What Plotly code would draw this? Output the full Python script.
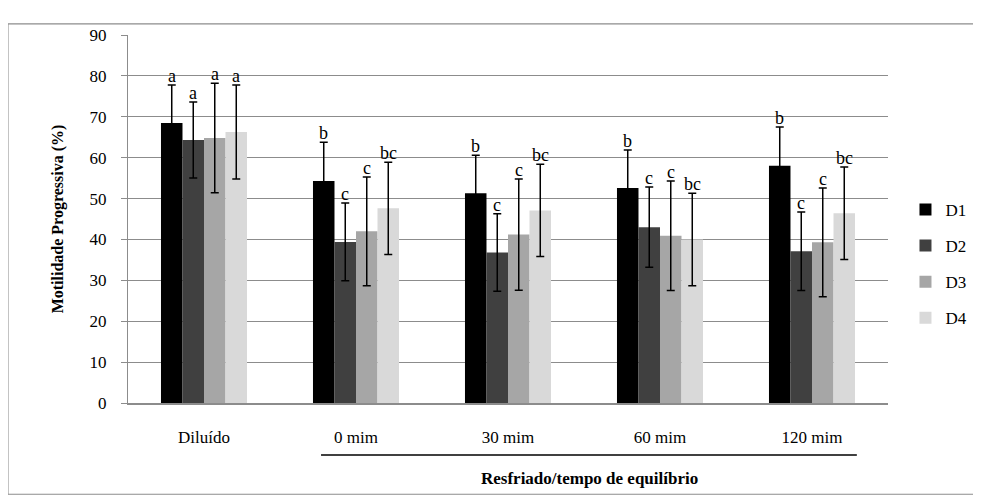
import plotly.graph_objects as go

categories = ["Diluído", "0 mim", "30 mim", "60 mim", "120 mim"]
series_names = ["D1", "D2", "D3", "D4"]

d1 = [68.5, 54.3, 51.3, 52.6, 58.0]
d2 = [64.3, 39.4, 36.8, 43.0, 37.1]
d3 = [64.8, 42.0, 41.2, 40.9, 39.3]
d4 = [66.3, 47.6, 47.1, 40.0, 46.4]

d1_err = [9.3, 9.5, 9.3, 9.3, 9.5]
d2_err = [9.3, 9.5, 9.5, 9.8, 9.6]
d3_err = [13.4, 13.3, 13.6, 13.4, 13.3]
d4_err = [11.5, 11.3, 11.3, 11.3, 11.3]

d1_letters = ["a", "b", "b", "b", "b"]
d2_letters = ["a", "c", "c", "c", "c"]
d3_letters = ["a", "c", "c", "c", "c"]
d4_letters = ["a", "bc", "bc", "bc", "bc"]

y_ticks = [0, 10, 20, 30, 40, 50, 60, 70, 80, 90]

values = [d1, d2, d3, d4]
errors = [d1_err, d2_err, d3_err, d4_err]
letters = [d1_letters, d2_letters, d3_letters, d4_letters]
colors = ["#000000", "#404040", "#a6a6a6", "#d9d9d9"]

FONT = "Liberation Serif"

fig = go.Figure()
for i, name in enumerate(series_names):
    fig.add_trace(go.Bar(
        x=categories, y=values[i], name=name,
        marker=dict(color=colors[i], line=dict(width=0)),
        error_y=dict(type="data", array=errors[i], visible=True,
                     color="#000000", thickness=1.5, width=4),
        legendgroup=name,
    ))

# significance letters above error bars
bar_px = 21.5
offsets = [-1.5 * bar_px, -0.5 * bar_px, 0.5 * bar_px, 1.5 * bar_px]
annotations = []
for i in range(4):
    for j, cat in enumerate(categories):
        annotations.append(dict(
            x=cat, y=values[i][j] + errors[i][j], xref="x", yref="y",
            text=letters[i][j], showarrow=False, xshift=offsets[i],
            yanchor="bottom", yshift=-3,
            font=dict(family=FONT, size=18, color="#000000"),
        ))

annotations.append(dict(
    x=0.6066, y=-0.204, xref="paper", yref="paper",
    text="<b>Resfriado/tempo de equilíbrio</b>", showarrow=False,
    xanchor="center", yanchor="middle",
    font=dict(family=FONT, size=17, color="#000000"),
))

border = dict(color="#8c8c8c", width=1.2)
shapes = [
    dict(type="line", xref="paper", yref="paper", x0=0.254, x1=0.959,
         y0=-0.1413, y1=-0.1413, line=dict(color="#000000", width=1.5)),
    # outer chart-area frame (right edge lies outside the picture)
    dict(type="line", xref="paper", yref="paper", x0=-0.158, x1=1.112,
         y0=1.030, y1=1.030, line=border),
    dict(type="line", xref="paper", yref="paper", x0=-0.158, x1=1.112,
         y0=-0.248, y1=-0.248, line=border),
    dict(type="line", xref="paper", yref="paper", x0=-0.158, x1=-0.158,
         y0=-0.248, y1=1.030, line=border),
]

fig.update_layout(
    width=965, height=488,
    margin=dict(l=120, r=85, t=27, b=93, pad=0, autoexpand=False),
    paper_bgcolor="#ffffff", plot_bgcolor="#ffffff",
    barmode="group", bargap=0.434, bargroupgap=0,
    font=dict(family=FONT, size=17, color="#000000"),
    showlegend=True,
    legend=dict(x=1.023, y=0.378, xanchor="left", yanchor="middle",
                font=dict(family=FONT, size=17, color="#000000"),
                tracegroupgap=11, itemwidth=30, borderwidth=0,
                bgcolor="rgba(0,0,0,0)"),
    annotations=annotations,
    shapes=shapes,
)

fig.update_xaxes(
    type="category", showgrid=False, zeroline=False,
    showline=True, linecolor="#8c8c8c", linewidth=1.5,
    ticks="", ticklabelstandoff=18,
    tickfont=dict(family=FONT, size=17, color="#000000"),
)
fig.update_yaxes(
    range=[0, 90], tickvals=y_ticks, showgrid=True,
    gridcolor="#8c8c8c", gridwidth=1.2, zeroline=False,
    showline=True, linecolor="#8c8c8c", linewidth=1.2,
    ticks="outside", ticklen=6, tickcolor="#8c8c8c", tickwidth=1.2,
    ticklabelstandoff=11,
    tickfont=dict(family=FONT, size=17, color="#000000"),
    title=dict(text="<b>Motilidade Progressiva (%)</b>", standoff=21,
               font=dict(family=FONT, size=16, color="#000000")),
)

fig.write_html("out.html")
